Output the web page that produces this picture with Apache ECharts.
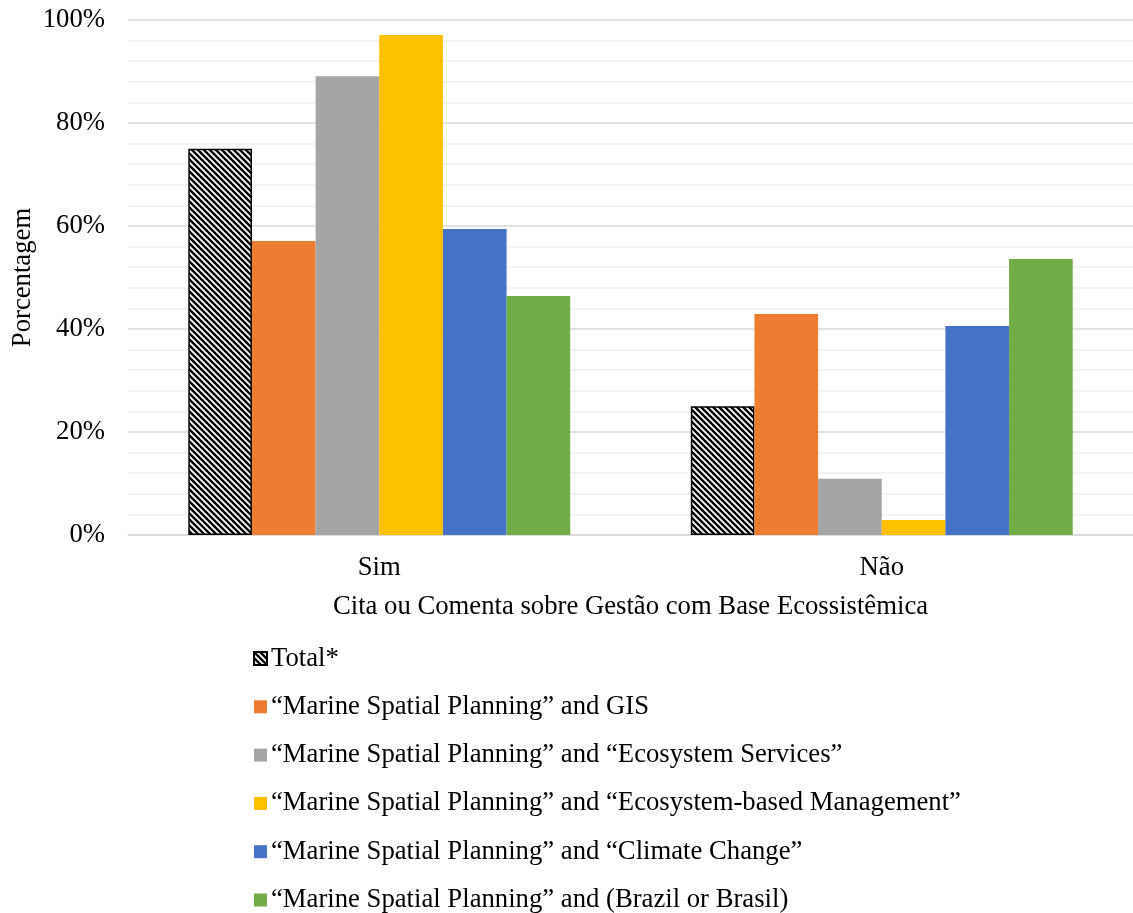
<!DOCTYPE html>
<html>
<head>
<meta charset="utf-8">
<script src="https://cdn.jsdelivr.net/npm/echarts@6/dist/echarts.min.js"></script>
<style>
  html, body { margin: 0; padding: 0; background: #fff; }
  #chart { width: 1133px; height: 913px; }
</style>
</head>
<body>
<div id="chart"></div>
<script>
// Categories and percentages for each search combination
const categories = ['Sim', 'Não'];
const seriesNames = [
  'Total*',
  '“Marine Spatial Planning” and GIS',
  '“Marine Spatial Planning” and “Ecosystem Services”',
  '“Marine Spatial Planning” and “Ecosystem-based Management”',
  '“Marine Spatial Planning” and “Climate Change”',
  '“Marine Spatial Planning” and (Brazil or Brasil)'
];
const totalValues   = [75.0, 25.0];
const gisValues     = [57.1, 42.9];
const servicesValues = [89.1, 10.9];
const ebmValues     = [97.1, 2.9];
const climateValues = [59.4, 40.6];
const brazilValues  = [46.4, 53.6];
const seriesColors = ['#000000', '#ED7D31', '#A5A5A5', '#FFC000', '#4472C4', '#70AD47'];
const yTicks = [0, 20, 40, 60, 80, 100];

// Diagonal black/white hatch used for the "Total*" bars
function makeHatch() {
  const size = 6;
  const c = document.createElement('canvas');
  c.width = size; c.height = size;
  const ctx = c.getContext('2d');
  ctx.fillStyle = '#ffffff';
  ctx.fillRect(0, 0, size, size);
  ctx.strokeStyle = '#000000';
  ctx.lineWidth = 2.4;
  ctx.beginPath();
  for (let k = -1; k <= 1; k++) {
    ctx.moveTo(-2 + k * size, -2);
    ctx.lineTo(size + 2 + k * size, size + 2);
  }
  ctx.stroke();
  return c;
}

const font = 'Liberation Serif, Times New Roman, serif';
const fontSize = 26.7;
const allValues = [totalValues, gisValues, servicesValues, ebmValues, climateValues, brazilValues];

const series = seriesNames.map((name, i) => {
  const s = {
    name: name,
    type: 'bar',
    data: allValues[i],
    barGap: '0%',
    barCategoryGap: '24%',
    itemStyle: { color: seriesColors[i] }
  };
  if (i === 0) {
    s.itemStyle = {
      color: { image: makeHatch(), repeat: 'repeat' },
      borderColor: '#000000',
      borderWidth: 1.5
    };
  }
  return s;
});

const chart = echarts.init(document.getElementById('chart'), null, { renderer: 'canvas' });
chart.setOption({
  animation: false,
  textStyle: { fontFamily: font },
  grid: { left: 128, right: 0, top: 20, height: 515, containLabel: false, outerBoundsMode: 'none' },
  xAxis: {
    type: 'category',
    data: categories,
    name: 'Cita ou Comenta sobre Gestão com Base Ecossistêmica',
    nameLocation: 'middle',
    nameGap: 58,
    nameTextStyle: { fontFamily: font, fontSize: fontSize, color: '#000' },
    axisLine: { lineStyle: { color: '#d9d9d9', width: 1.5 } },
    axisTick: { show: false },
    axisLabel: { fontFamily: font, fontSize: fontSize, color: '#000', margin: 19 }
  },
  yAxis: {
    type: 'value',
    min: yTicks[0],
    max: yTicks[yTicks.length - 1],
    interval: 20,
    name: 'Porcentagem',
    nameLocation: 'middle',
    nameGap: 92,
    nameMoveOverlap: false,
    nameTextStyle: { fontFamily: font, fontSize: fontSize, color: '#000' },
    axisLine: { show: false },
    axisTick: { show: false },
    axisLabel: { fontFamily: font, fontSize: fontSize, color: '#000', margin: 23, formatter: '{value}%' },
    splitLine: { lineStyle: { color: '#d9d9d9', width: 1.5 } },
    minorTick: { show: false, splitNumber: 5 },
    minorSplitLine: { show: true, lineStyle: { color: '#f0f0f0', width: 1.5 } }
  },
  legend: {
    orient: 'vertical',
    left: 253,
    top: 645,
    height: 400,
    padding: 0,
    itemWidth: 13,
    itemHeight: 13,
    itemGap: 21.3,
    icon: 'rect',
    textStyle: { fontFamily: font, fontSize: fontSize, color: '#000', padding: [0, 0, 0, -1] },
    data: seriesNames
  },
  series: series
});
</script>
</body>
</html>
